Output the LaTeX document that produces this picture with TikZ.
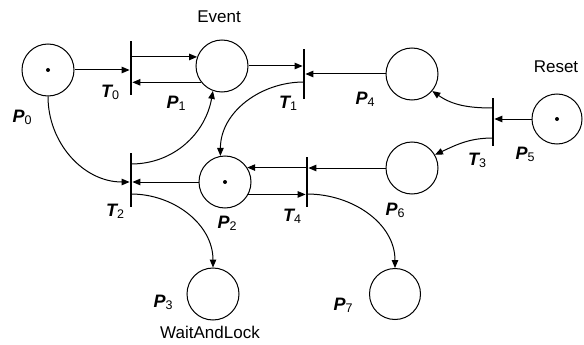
\documentclass[tikz,border=0pt]{standalone}
\usepackage{fontspec}
\setmainfont{Liberation Sans}
\usetikzlibrary{arrows.meta}
% place / transition label: bold italic letter with a small lowered index
\newcommand{\pnlabel}[2]{{\bfseries\itshape #1}\raisebox{-0.12em}{\fontsize{12.5}{12.5}\selectfont #2}}
\begin{document}
\begin{tikzpicture}[x=1pt,y=-1pt,
  place/.style={draw,circle,line width=1pt,minimum size=52pt,inner sep=0pt},
  trans/.style={fill=black,rectangle,minimum width=2.4pt,inner sep=0pt},
  arr/.style={line width=1pt,-{Triangle[length=8pt,width=6.5pt]}},
  lbl/.style={font=\fontsize{17}{20}\selectfont},
  idx/.style={font=\fontsize{18}{20}\selectfont},
  token/.style={fill=black}]
\path[use as bounding box] (0,0) rectangle (584,345);

% places
\node[place] (P0) at (48,70) {};
\node[place] (P1) at (222,66) {};
\node[place] (P2) at (225,182) {};
\node[place] (P3) at (213,294) {};
\node[place] (P4) at (412,74) {};
\node[place,minimum size=50pt] (P5) at (557,119) {};
\node[place] (P6) at (412,168) {};
\node[place,minimum size=51pt] (P7) at (395,294) {};

% tokens
\fill[token] (P0.center) circle (2pt);
\fill[token] (P2.center) circle (2pt);
\fill[token] (P5.center) circle (2pt);

% transitions
\node[trans,minimum height=54pt] (T0) at (131,68) {};
\node[trans,minimum height=50pt] (T1) at (304,74) {};
\node[trans,minimum height=54pt] (T2) at (131,180) {};
\node[trans,minimum height=48pt] (T3) at (493,122) {};
\node[trans,minimum height=50pt] (T4) at (307,182) {};

% arcs
\draw[arr] (P0) -- (P0 -| T0.west);
\draw[arr] (T0.center |- P1.160) -- (P1.160);
\draw[arr] (P1.218) -- (P1.218 -| T0.east);
\draw[arr] (P1.east) -- (P1.east -| T1.west);
\draw[arr] (P4.west) -- (P4.west -| T1.east);
\draw[arr] ([yshift=-8pt]T1.center) to[out=180,in=90] (P2.100);
\draw[arr] (P5.west) -- (P5.west -| T3.east);
\draw[arr] ([yshift=14pt]T3.center) to[out=180,in=-35] (P4.-40);
\draw[arr] ([yshift=-16pt]T3.center) to[out=180,in=25] (P6.30);
\draw[arr] (P6.west) -- (P6.west -| T4.east);
\draw[arr] (T4.center |- P2.33) -- (P2.33);
\draw[arr] (P2.-28) -- (P2.-28 -| T4.west);
\draw[arr] (P2.west) -- (P2.west -| T2.east);
\draw[arr] (P0.south) to[out=-90,in=180] (T2.west |- P2.west);
\draw[arr] ([yshift=16pt]T2.center) to[out=0,in=-100] (P1.-110);
\draw[arr] ([yshift=-14pt]T2.center) to[out=0,in=90] (P3.north);
\draw[arr] ([yshift=-12pt]T4.center) to[out=0,in=90] (P7.north);

% names
\node[lbl] (ev) at (219,17) {Event};
\node[lbl] (rs) at (556,67) {Reset};
\node[lbl] (wl) at (210,332) {WaitAndLock};

% labels
\node[idx] (lP0) at (22,117) {\pnlabel{P}{0}};
\node[idx] (lP1) at (176,103) {\pnlabel{P}{1}};
\node[idx] (lP2) at (227,223) {\pnlabel{P}{2}};
\node[idx] (lP3) at (163,302) {\pnlabel{P}{3}};
\node[idx] (lP4) at (365,99) {\pnlabel{P}{4}};
\node[idx] (lP5) at (525,154) {\pnlabel{P}{5}};
\node[idx] (lP6) at (395,210) {\pnlabel{P}{6}};
\node[idx] (lP7) at (343,305) {\pnlabel{P}{7}};
\node[idx] (lT0) at (110,92) {\pnlabel{T}{0}};
\node[idx] (lT1) at (288,103) {\pnlabel{T}{1}};
\node[idx] (lT2) at (115,211) {\pnlabel{T}{2}};
\node[idx] (lT3) at (477,160) {\pnlabel{T}{3}};
\node[idx] (lT4) at (292,216) {\pnlabel{T}{4}};
\end{tikzpicture}
\end{document}
